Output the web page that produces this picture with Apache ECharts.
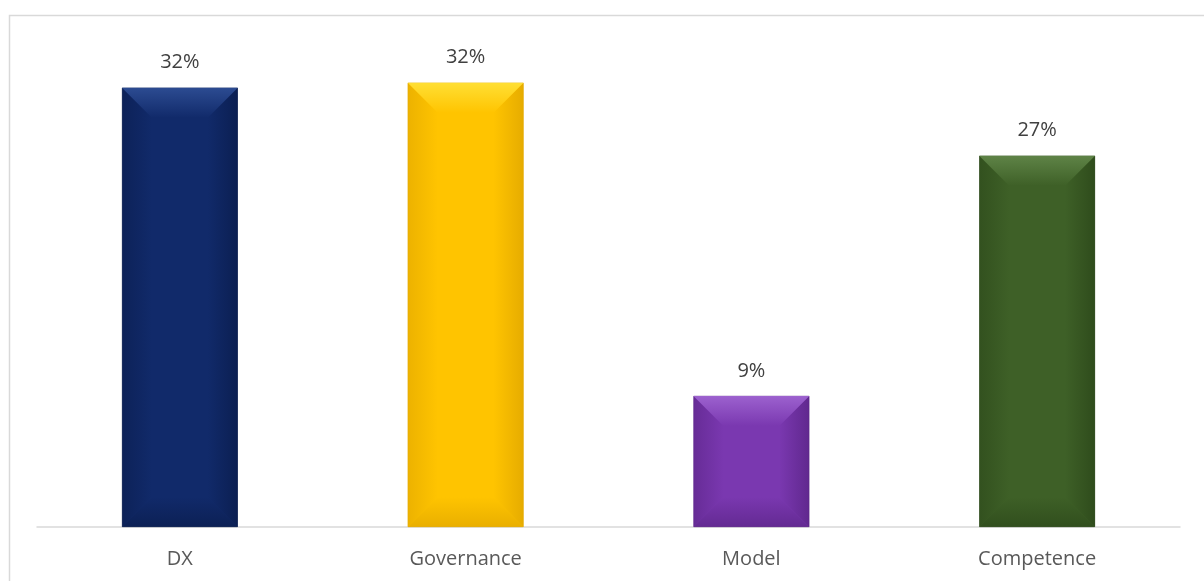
<!DOCTYPE html>
<html>
<head>
<meta charset="utf-8">
<script src="https://cdn.jsdelivr.net/npm/echarts@6/dist/echarts.min.js"></script>
<style>
  html, body { margin: 0; padding: 0; background: #fff; }
  #share-bar { width: 1204px; height: 581px; }
</style>
</head>
<body>
<div id="share-bar"></div>
<script>
// values (percent), labels show rounded values
const categories = ['DX', 'Governance', 'Model', 'Competence']
const shares = [31.7, 32.06, 9.46, 26.79]

// per bar: [edge, base, highlight]
const palette = [
  ['#0a1c4c', '#112a6a', '#2f4f96'],
  ['#e0a600', '#ffc400', '#ffe23a'],
  ['#5a2486', '#7a38b0', '#a066d2'],
  ['#2b4719', '#3e6027', '#62874a']
]

const chart = echarts.init(document.getElementById('share-bar'))

function vGrad(c1, c2) {
  return new echarts.graphic.LinearGradient(0, 0, 0, 1, [
    { offset: 0, color: c1 }, { offset: 1, color: c2 }
  ])
}
function hGrad(c1, c2) {
  return new echarts.graphic.LinearGradient(0, 0, 1, 0, [
    { offset: 0, color: c1 }, { offset: 1, color: c2 }
  ])
}

// bevel facets drawn on top of each bar
function renderBevel(params, api) {
  const i = api.value(0)
  const top = api.coord([i, api.value(1)])
  const bottom = api.coord([i, 0])
  const w = api.size([1, 0])[0] * 0.405
  const x0 = top[0] - w / 2
  const x1 = top[0] + w / 2
  const y0 = top[1]
  const y1 = bottom[1]
  const d = Math.min(30, (y1 - y0) / 2)
  const c = palette[i]
  return {
    type: 'group',
    children: [
      { type: 'polygon', shape: { points: [[x0, y0], [x0 + d, y0 + d], [x0 + d, y1 - d], [x0, y1]] },
        style: { fill: hGrad(c[0], c[1]), opacity: 0.6 } },
      { type: 'polygon', shape: { points: [[x1, y0], [x1 - d, y0 + d], [x1 - d, y1 - d], [x1, y1]] },
        style: { fill: hGrad(c[1], c[0]), opacity: 0.8 } },
      { type: 'polygon', shape: { points: [[x0, y0], [x1, y0], [x1 - d, y0 + d], [x0 + d, y0 + d]] },
        style: { fill: vGrad(c[2], c[1]), opacity: 0.9 } },
      { type: 'polygon', shape: { points: [[x0, y1], [x1, y1], [x1 - d, y1 - d], [x0 + d, y1 - d]] },
        style: { fill: vGrad(c[1], c[0]), opacity: 0.7 } }
    ]
  }
}

chart.setOption({
  animation: false,
  graphic: [{
    type: 'rect',
    left: 7,
    top: 13,
    shape: { width: 1400, height: 800 },
    style: { fill: 'none', stroke: '#d9d9d9', lineWidth: 1.5 },
    silent: true
  }],
  grid: { left: 37, right: 24, top: 42, bottom: 54 },
  xAxis: {
    type: 'category',
    data: categories,
    axisTick: { show: false },
    axisLine: { lineStyle: { color: '#d9d9d9', width: 1.5 } },
    axisLabel: { color: '#595959', fontSize: 20, fontFamily: 'Open Sans', margin: 22 }
  },
  yAxis: {
    type: 'value',
    min: 0,
    max: 35,
    show: false,
    splitLine: { show: false }
  },
  series: [
    {
      type: 'bar',
      barWidth: '40.5%',
      data: shares.map((v, i) => ({
        value: v,
        itemStyle: { color: palette[i][1], borderColor: palette[i][0], borderWidth: 0.5 }
      })),
      label: {
        show: true,
        position: 'top',
        distance: 15,
        color: '#404040',
        fontSize: 20,
        fontFamily: 'Open Sans',
        formatter: p => Math.round(p.value) + '%'
      }
    },
    {
      type: 'custom',
      renderItem: renderBevel,
      data: shares.map((v, i) => [i, v]),
      silent: true,
      z: 3
    }
  ]
})
</script>
</body>
</html>
